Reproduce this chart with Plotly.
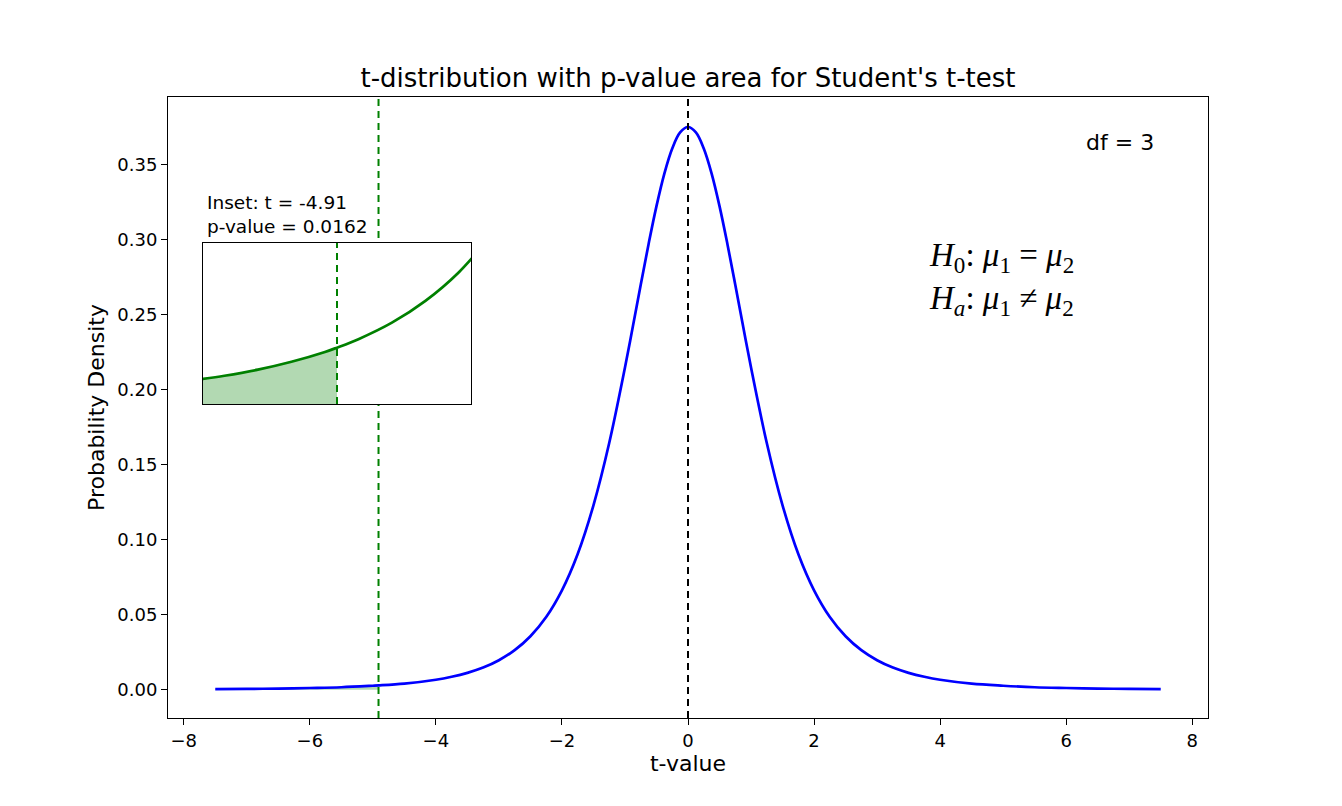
import plotly.graph_objects as go

# values
t_stat = -4.91
p_value = 0.0162
df_value = 3

t_values = [-7.5, -7.0, -6.5, -6.0, -5.5, -5.0, -4.91, -4.5, -4.0, -3.75, -3.5, -3.25,
            -3.0, -2.75, -2.5, -2.25, -2.0, -1.75, -1.5, -1.25, -1.0, -0.875, -0.75, -0.625,
            -0.5, -0.375, -0.25, -0.125, 0.0, 0.125, 0.25, 0.375, 0.5, 0.625, 0.75, 0.875,
            1.0, 1.25, 1.5, 1.75, 2.0, 2.25, 2.5, 2.75,
            3.0, 3.25, 3.5, 3.75, 4.0, 4.5, 5.0, 5.5, 6.0, 6.5, 7.0, 7.5]
density = [0.0004, 0.0006, 0.0008, 0.0012, 0.0017, 0.0027, 0.0029, 0.0041, 0.0067, 0.0087, 0.0113, 0.0148,
           0.0197, 0.0264, 0.0357, 0.0485, 0.0663, 0.0905, 0.1229, 0.1644, 0.2147, 0.2420, 0.2699, 0.2971,
           0.3223, 0.3440, 0.3607, 0.3714, 0.3750, 0.3714, 0.3607, 0.3440, 0.3223, 0.2971, 0.2699, 0.2420,
           0.2147, 0.1644, 0.1229, 0.0905, 0.0663, 0.0485, 0.0357, 0.0264,
           0.0197, 0.0148, 0.0113, 0.0087, 0.0067, 0.0041, 0.0027, 0.0017, 0.0012, 0.0008, 0.0006, 0.0004]

# zoomed tail shown in the inset
inset_t = [-6.0, -5.75, -5.5, -5.25, -5.0, -4.91, -4.75, -4.5, -4.25, -4.0, -3.75]
inset_density = [0.00119, 0.00144, 0.00175, 0.00215, 0.00265, 0.00287, 0.00330,
                 0.00414, 0.00525, 0.00671, 0.00865]

x_ticks = [-8, -6, -4, -2, 0, 2, 4, 6, 8]
y_ticks = [0.00, 0.05, 0.10, 0.15, 0.20, 0.25, 0.30, 0.35]

x_range = [-8.25, 8.25]
y_range = [-0.0188, 0.395]
inset_x_range = [t_stat - 1, t_stat + 1]
inset_y_range = [0, 0.0082]

font = 'DejaVu Sans'
dash = '7px,5px'

shade_t = [t for t in t_values if t <= t_stat]
shade_d = [d for t, d in zip(t_values, density) if t <= t_stat]
inset_shade_t = [t for t in inset_t if t <= t_stat]
inset_shade_d = [d for t, d in zip(inset_t, inset_density) if t <= t_stat]

data = [
    go.Scatter(x=shade_t, y=shade_d, mode='lines', fill='tozeroy',
               fillcolor='rgba(0,128,0,0.3)', line=dict(width=0, shape='spline'),
               hoverinfo='skip'),
    go.Scatter(x=t_values, y=density, mode='lines',
               line=dict(color='blue', width=2.7, shape='spline')),
    go.Scatter(x=[t_stat, t_stat], y=y_range, mode='lines',
               line=dict(color='green', width=2, dash=dash), hoverinfo='skip'),
    go.Scatter(x=[0, 0], y=y_range, mode='lines',
               line=dict(color='black', width=2, dash=dash), hoverinfo='skip'),
    # inset
    go.Scatter(x=inset_shade_t, y=inset_shade_d, mode='lines', fill='tozeroy',
               fillcolor='rgba(0,128,0,0.3)', line=dict(width=0, shape='spline'),
               xaxis='x2', yaxis='y2', hoverinfo='skip'),
    go.Scatter(x=inset_t, y=inset_density, mode='lines',
               line=dict(color='green', width=2.7, shape='spline'),
               xaxis='x2', yaxis='y2'),
    go.Scatter(x=[t_stat, t_stat], y=inset_y_range, mode='lines',
               line=dict(color='green', width=2, dash=dash),
               xaxis='x2', yaxis='y2', hoverinfo='skip'),
]

axis_style = dict(showline=True, linecolor='black', linewidth=1, mirror=True,
                  showgrid=False, zeroline=False, ticks='outside', ticklen=6,
                  tickcolor='black', tickwidth=1,
                  tickfont=dict(family=font, size=18, color='black'))

# the page body adds 8px on the left and top, so the figure is a bit smaller
layout = go.Layout(
    width=1334, height=798,
    margin=dict(l=160, r=134, t=89, b=88),
    paper_bgcolor='white', plot_bgcolor='white',
    showlegend=False,
    font=dict(family=font, color='black'),
    title=dict(text="t-distribution with p-value area for Student's t-test",
               x=0.5, xref='paper', y=0.912, yref='container', yanchor='middle',
               font=dict(family=font, size=26, color='black')),
    xaxis=dict(axis_style, range=x_range, tickvals=x_ticks,
               title=dict(text='t-value', font=dict(size=22), standoff=6)),
    yaxis=dict(axis_style, range=y_range, tickvals=y_ticks, tickformat='.2f',
               title=dict(text='Probability Density', font=dict(size=22), standoff=6)),
    xaxis2=dict(domain=[0.0337, 0.2913], anchor='y2', range=inset_x_range,
                showline=True, linecolor='black', linewidth=1, mirror=True,
                showgrid=False, zeroline=False, showticklabels=False, ticks=''),
    yaxis2=dict(domain=[0.5056, 0.765], anchor='x2', range=inset_y_range,
                showline=True, linecolor='black', linewidth=1, mirror=True,
                showgrid=False, zeroline=False, showticklabels=False, ticks=''),
    annotations=[
        dict(text=f'df = {df_value}', xref='paper', yref='paper', x=0.95, y=0.95,
             xanchor='right', yanchor='top', showarrow=False,
             font=dict(family=font, size=22, color='black')),
        dict(text='<i>H</i><sub>0</sub>: <i>μ</i><sub>1</sub> = <i>μ</i><sub>2</sub><br>'
                  '<i>H</i><sub><i>a</i></sub>: <i>μ</i><sub>1</sub> ≠ <i>μ</i><sub>2</sub>',
             xref='paper', yref='paper', x=0.730, y=0.778,
             xanchor='left', yanchor='top', align='left', showarrow=False,
             font=dict(family='Liberation Serif', size=33, color='black')),
        dict(text=f'Inset: t = {t_stat}<br>p-value = {p_value}',
             xref='paper', yref='paper', x=0.036, y=0.772,
             xanchor='left', yanchor='bottom', align='left', showarrow=False,
             font=dict(family=font, size=18.5, color='black')),
    ],
)

fig = go.Figure(data=data, layout=layout)
fig.write_html('out.html')
